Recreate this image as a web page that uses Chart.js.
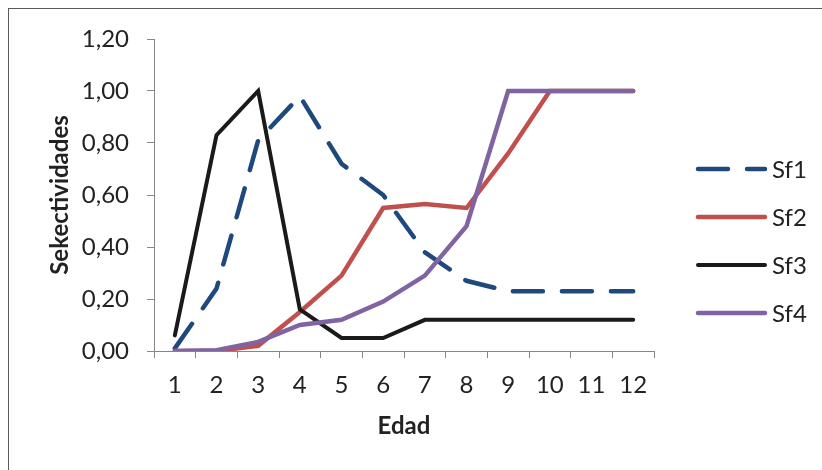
<!DOCTYPE html>
<html>
<head>
<meta charset="utf-8">
<script src="https://cdn.jsdelivr.net/npm/chart.js@4/dist/chart.umd.min.js"></script>
<style>
  html, body { margin: 0; padding: 0; background: #fff; }
  #wrap { width: 822px; height: 470px; }
</style>
</head>
<body>
<div id="wrap"><canvas id="grafico" width="822" height="470"></canvas></div>
<script>
const edades = ['1', '2', '3', '4', '5', '6', '7', '8', '9', '10', '11', '12'];
const sf1 = [0.01, 0.24, 0.81, 0.98, 0.72, 0.60, 0.38, 0.27, 0.23, 0.23, 0.23, 0.23];
const sf2 = [0.00, 0.00, 0.02, 0.15, 0.29, 0.55, 0.565, 0.55, 0.76, 1.00, 1.00, 1.00];
const sf3 = [0.06, 0.83, 1.00, 0.16, 0.05, 0.05, 0.12, 0.12, 0.12, 0.12, 0.12, 0.12];
const sf4 = [0.00, 0.003, 0.035, 0.10, 0.12, 0.19, 0.29, 0.48, 1.00, 1.00, 1.00, 1.00];
const yTicks = [0, 0.2, 0.4, 0.6, 0.8, 1.0, 1.2];

const fuente = 'Lato, "Open Sans", sans-serif';
const colorTexto = '#222';
const colorEje = '#868686';

function serie(label, data, cor, orden, ancho, dash = []) {
    return {
        label,
        data,
        borderColor: cor,
        backgroundColor: cor,
        borderWidth: ancho,
        borderDash: dash,
        borderCapStyle: 'round',
        pointRadius: 0,
        pointHoverRadius: 0,
        tension: 0,
        fill: false,
        order: orden
    };
}

// marco exterior y leyenda dibujados a mano
const marcoYLeyenda = {
    id: 'marcoYLeyenda',
    beforeDraw(chart) {
        const ctx = chart.ctx;
        ctx.save();
        ctx.fillStyle = '#fff';
        ctx.fillRect(0, 0, chart.width, chart.height);
        ctx.strokeStyle = '#595959';
        ctx.lineWidth = 1;
        ctx.strokeRect(8.5, 8.5, 1000, 1000);
        ctx.restore();
    },
    afterDraw(chart) {
        const ctx = chart.ctx;
        ctx.save();
        chart.data.datasets.forEach((ds, i) => {
            const y = 169 + i * 48;
            ctx.beginPath();
            ctx.strokeStyle = ds.borderColor;
            ctx.lineWidth = ds.borderWidth;
            ctx.lineCap = 'round';
            ctx.setLineDash(ds.borderDash || []);
            ctx.moveTo(698, y);
            ctx.lineTo(765, y);
            ctx.stroke();
            ctx.setLineDash([]);
            ctx.fillStyle = colorTexto;
            ctx.font = `24px ${fuente}`;
            ctx.textBaseline = 'middle';
            ctx.textAlign = 'left';
            ctx.fillText(ds.label, 772, y + 1);
        });
        ctx.restore();
    }
};

new Chart(document.getElementById('grafico').getContext('2d'), {
    type: 'line',
    data: {
        labels: edades,
        datasets: [
            serie('Sf1', sf1, '#1F497D', 4, 4.5, [30, 19]),
            serie('Sf2', sf2, '#C0504D', 3, 4.5),
            serie('Sf3', sf3, '#1a1a1a', 2, 4),
            serie('Sf4', sf4, '#8064A2', 1, 4.5)
        ]
    },
    options: {
        responsive: false,
        animation: false,
        layout: { padding: { left: 0, right: 168, top: 39, bottom: 0 } },
        plugins: {
            legend: { display: false },
            tooltip: { enabled: false }
        },
        scales: {
            x: {
                type: 'category',
                offset: true,
                grid: {
                    offset: true,
                    drawOnChartArea: false,
                    drawTicks: true,
                    tickLength: 7,
                    color: colorEje
                },
                border: { color: colorEje, width: 1 },
                ticks: {
                    color: colorTexto,
                    font: { family: fuente, size: 24 },
                    padding: 13,
                    autoSkip: false,
                    maxRotation: 0
                },
                title: {
                    display: true,
                    text: 'Edad',
                    color: colorTexto,
                    font: { family: fuente, size: 24, weight: 'bold' },
                    padding: { top: 0, bottom: 29 }
                },
                afterFit(scale) { scale.height = 119; }
            },
            y: {
                min: 0,
                max: 1.2,
                afterBuildTicks(scale) {
                    scale.ticks = yTicks.map(v => ({ value: v }));
                },
                grid: {
                    drawOnChartArea: false,
                    drawTicks: true,
                    tickLength: 7,
                    color: colorEje
                },
                border: { color: colorEje, width: 1 },
                ticks: {
                    color: colorTexto,
                    font: { family: fuente, size: 24 },
                    padding: 18,
                    callback: v => Number(v).toFixed(2).replace('.', ',')
                },
                title: {
                    display: true,
                    text: 'Sekectividades',
                    color: colorTexto,
                    font: { family: fuente, size: 24, weight: 'bold' },
                    padding: { top: 46, bottom: 0 }
                },
                afterFit(scale) { scale.width = 154; }
            }
        }
    },
    plugins: [marcoYLeyenda]
});
</script>
</body>
</html>
